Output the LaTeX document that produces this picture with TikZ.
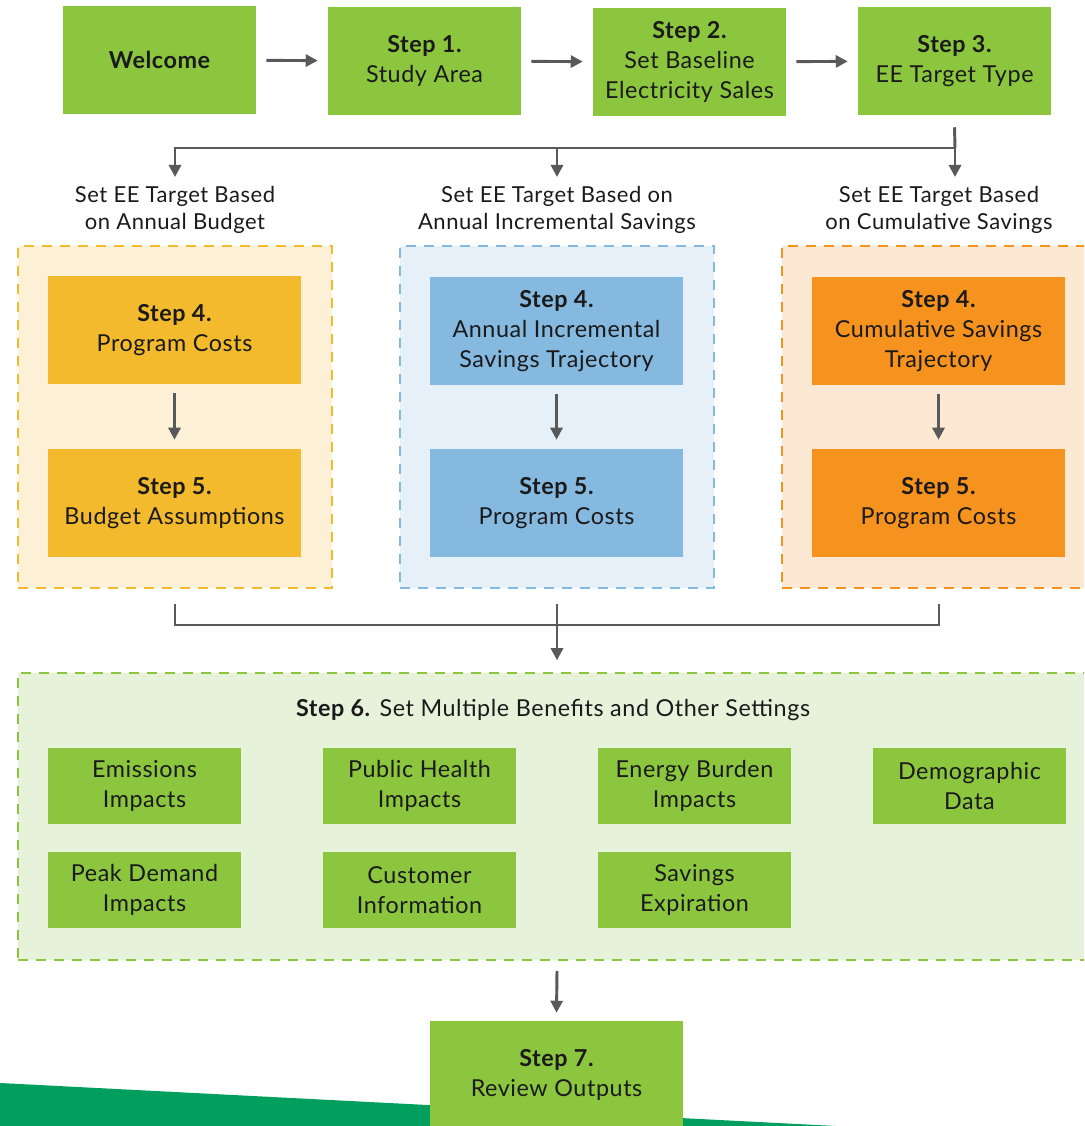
\documentclass[tikz,border=0pt]{standalone}
\usepackage{fontspec}
\setmainfont{Lato}[LetterSpace=2.5]
\usetikzlibrary{arrows.meta}
\definecolor{gbox}{HTML}{8CC63F}
\definecolor{gbg}{HTML}{E6F2DA}
\definecolor{gdash}{HTML}{8CC63F}
\definecolor{ybox}{HTML}{F2BA2C}
\definecolor{ybg}{HTML}{FCF0D7}
\definecolor{ydash}{HTML}{F2BA2C}
\definecolor{bbox}{HTML}{85B9E0}
\definecolor{bbg}{HTML}{E6F0F8}
\definecolor{bdash}{HTML}{85B9E0}
\definecolor{obox}{HTML}{F6921E}
\definecolor{obg}{HTML}{FDE9D3}
\definecolor{odash}{HTML}{F6921E}
\definecolor{band}{HTML}{009F5E}
\definecolor{linec}{HTML}{595959}
\definecolor{txt}{HTML}{1A1A1A}
\tikzset{
  boxtext/.style={font=\fontsize{17.5pt}{22.5pt}\selectfont, text=txt, align=center},
  topbox/.style={boxtext, fill=gbox, minimum width=144.75pt, minimum height=81pt, inner sep=0pt},
  stepbox/.style={boxtext, minimum width=189.75pt, minimum height=81pt, inner sep=0pt},
  subbox/.style={boxtext, fill=gbox, minimum width=144.75pt, minimum height=57pt, inner sep=0pt},
  container/.style={dashed, dash pattern=on 7.5pt off 6pt, line width=1.2pt, minimum width=235.5pt, minimum height=256.5pt, inner sep=0pt},
  lbl/.style={font=\fontsize{16.5pt}{20.25pt}\selectfont, text=txt, align=center},
  ln/.style={draw=linec, line width=2.2pt},
  arr/.style={draw=linec, line width=2.2pt, -{Triangle[length=9pt,width=9pt]}},
}
\begin{document}
\begin{tikzpicture}[x=0.75pt,y=-0.75pt]
\clip (0,0) rectangle (1084,1126);
\fill[white] (0,0) rectangle (1084,1126);
% top row
\node[topbox] (w) at (159.5,60) {\bfseries Welcome};
\node[topbox] (s1) at (424.5,61) {\bfseries Step 1.\\Study Area};
\node[topbox] (s2) at (689.5,62) {\bfseries Step 2.\\Set Baseline\\Electricity Sales};
\node[topbox] (s3) at (954.5,61) {\bfseries Step 3.\\EE Target Type};
\draw[arr, shorten <=7.5pt, shorten >=7.5pt] (w) -- (s1);
\draw[arr, shorten <=7.5pt, shorten >=7.5pt] (s1) -- (s2);
\draw[arr, shorten <=7.5pt, shorten >=7.5pt] (s2) -- (s3);
% branch
\coordinate (j1) at (955,148);
\coordinate (tL) at (175,177);
\coordinate (tM) at (557,177);
\coordinate (tR) at (955,177);
\draw[ln] ([yshift=-9pt]s3.south) -- (j1);
\draw[arr] (j1) -| (tL);
\draw[arr] (j1 -| tM) -- (tM);
\draw[arr] (j1) -- (tR);
\node[lbl] (lL) at (175,210) {Set EE Target Based\\on Annual Budget};
\node[lbl] (lM) at (557,210) {Set EE Target Based on\\Annual Incremental Savings};
\node[lbl] (lR) at (939,210) {Set EE Target Based\\on Cumulative Savings};
% containers
\node[container, fill=ybg, draw=ydash] (cL) at (175,417) {};
\node[container, fill=bbg, draw=bdash] (cM) at (557,417) {};
\node[container, fill=obg, draw=odash] (cR) at (939,417) {};
\node[stepbox, fill=ybox] (a4) at (174.5,330) {\bfseries Step 4.\\Program Costs};
\node[stepbox, fill=ybox] (a5) at (174.5,503) {\bfseries Step 5.\\Budget Assumptions};
\node[stepbox, fill=bbox] (b4) at (556.5,331) {\bfseries Step 4.\\Annual Incremental\\Savings Trajectory};
\node[stepbox, fill=bbox] (b5) at (556.5,503) {\bfseries Step 5.\\Program Costs};
\node[stepbox, fill=obox] (c4) at (938.5,331) {\bfseries Step 4.\\Cumulative Savings\\Trajectory};
\node[stepbox, fill=obox] (c5) at (938.5,503) {\bfseries Step 5.\\Program Costs};
\draw[arr, shorten <=6.75pt, shorten >=6.75pt] (a4) -- (a5);
\draw[arr, shorten <=6.75pt, shorten >=6.75pt] (b4) -- (b5);
\draw[arr, shorten <=6.75pt, shorten >=6.75pt] (c4) -- (c5);
% step 6 container
\node[container, fill=gbg, draw=gdash, minimum width=808.5pt, minimum height=215.25pt] (s6) at (557,816.5) {};
% merge
\coordinate (j2) at (557,625);
\draw[ln] ([yshift=-11.25pt]cL.south) |- (j2) -| ([yshift=-11.25pt]cR.south);
\draw[arr] ([yshift=-11.25pt]cM.south) -- ([yshift=9pt]s6.north);
\node[boxtext] (t6) at (553,710) {\textbf{Step 6.} Set Multiple Benefits and Other Settings};
\node[subbox] (e1) at (144.5,786) {Emissions\\Impacts};
\node[subbox] (e2) at (419.5,786) {Public Health\\Impacts};
\node[subbox] (e3) at (694.5,786) {Energy Burden\\Impacts};
\node[subbox] (e4) at (969.5,786) {Demographic\\Data};
\node[subbox] (e5) at (144.5,890) {Peak Demand\\Impacts};
\node[subbox] (e6) at (419.5,890) {Customer\\Information};
\node[subbox] (e7) at (694.5,890) {Savings\\Expiration};
% band
\fill[band] (0,1083) -- (836,1126) -- (0,1126) -- cycle;
% step 7
\node[stepbox, fill=gbox] (s7) at (556.5,1075) {\bfseries Step 7.\\Review Outputs};
\draw[arr] ([yshift=-7.5pt]s6.south) -- ([yshift=6pt]s7.north);
\end{tikzpicture}
\end{document}
